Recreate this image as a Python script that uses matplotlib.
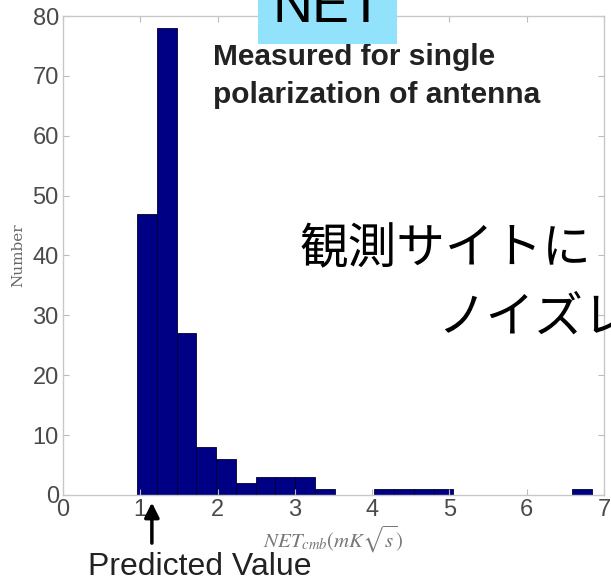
import numpy as np
import matplotlib
matplotlib.use("Agg")
import matplotlib.pyplot as plt
from matplotlib.patches import Rectangle

plt.rcParams['mathtext.fontset'] = 'stix'

# ヒストグラムのデータ
bin_start = 0.96
bin_end = 6.84
counts = [47, 78, 27, 8, 6, 2, 3, 3, 3, 1, 0, 0,
          1, 1, 1, 1, 0, 0, 0, 0, 0, 0, 1]
x_ticks = [0, 1, 2, 3, 4, 5, 6, 7]
y_ticks = [0, 10, 20, 30, 40, 50, 60, 70, 80]
predicted_value = 1.15

edges = np.linspace(bin_start, bin_end, len(counts) + 1)
widths = np.diff(edges)

fig = plt.figure(figsize=(6.11, 5.84), dpi=100)
ax = fig.add_axes([0.1031, 0.1524, 0.8854, 0.8202])

ax.bar(edges[:-1], counts, width=widths, align='edge',
       color='#000085', edgecolor='#000030', linewidth=0.6)

ax.set_xlim(0, 7)
ax.set_ylim(0, 80)
ax.set_xticks(x_ticks)
ax.set_yticks(y_ticks)
ax.tick_params(direction='in', length=4, color='#bbbbbb', top=True, right=True,
               labelsize=17, labelcolor='#4a4a4a', pad=3)
for lab in ax.get_xticklabels() + ax.get_yticklabels():
    lab.set_family('Liberation Sans')
for sp in ax.spines.values():
    sp.set_color('#c8c8c8')
    sp.set_linewidth(1.0)

ax.set_ylabel('Number', family='DejaVu Serif', fontsize=11, color='#666666', labelpad=5)
ax.set_xlabel(r'$NET_{cmb}(mK\sqrt{s})$', fontsize=15, color='#777777', labelpad=2)

# 凡例テキスト
ax.text(0.277, 0.943, 'Measured for single\npolarization of antenna',
        transform=ax.transAxes, ha='left', va='top', fontsize=21.5,
        fontweight='bold', family='Liberation Sans', color='#222222',
        linespacing=1.45)

# 予測値の矢印
ax.annotate('', xy=(predicted_value, -0.8), xytext=(predicted_value, -8.5),
            xycoords='data', textcoords='data', annotation_clip=False,
            arrowprops=dict(arrowstyle='-|>', color='black', lw=2.5,
                            mutation_scale=22))
fig.text(0.144, 0.029, 'Predicted Value', ha='left', va='center',
         fontsize=23, family='Liberation Sans', color='#222222')

# スライド上のラベル
fig.patches.append(Rectangle((0.422, 0.924), 0.228, 0.076, transform=fig.transFigure,
                             facecolor='#93e2fb', edgecolor='none', zorder=5))
fig.text(0.536, 0.962, 'NET', ha='center', va='baseline', fontsize=40,
         family='Liberation Sans', color='black', zorder=6)

jp = ['Noto Sans CJK JP', 'DejaVu Sans']
fig.text(0.491, 0.572, '観測サイトに', ha='left', va='center', fontsize=35,
         family=jp, color='black', zorder=6)
fig.text(0.716, 0.456, 'ノイズレ', ha='left', va='center', fontsize=35,
         family=jp, color='black', zorder=6)

fig.savefig('out.png', dpi=100)
